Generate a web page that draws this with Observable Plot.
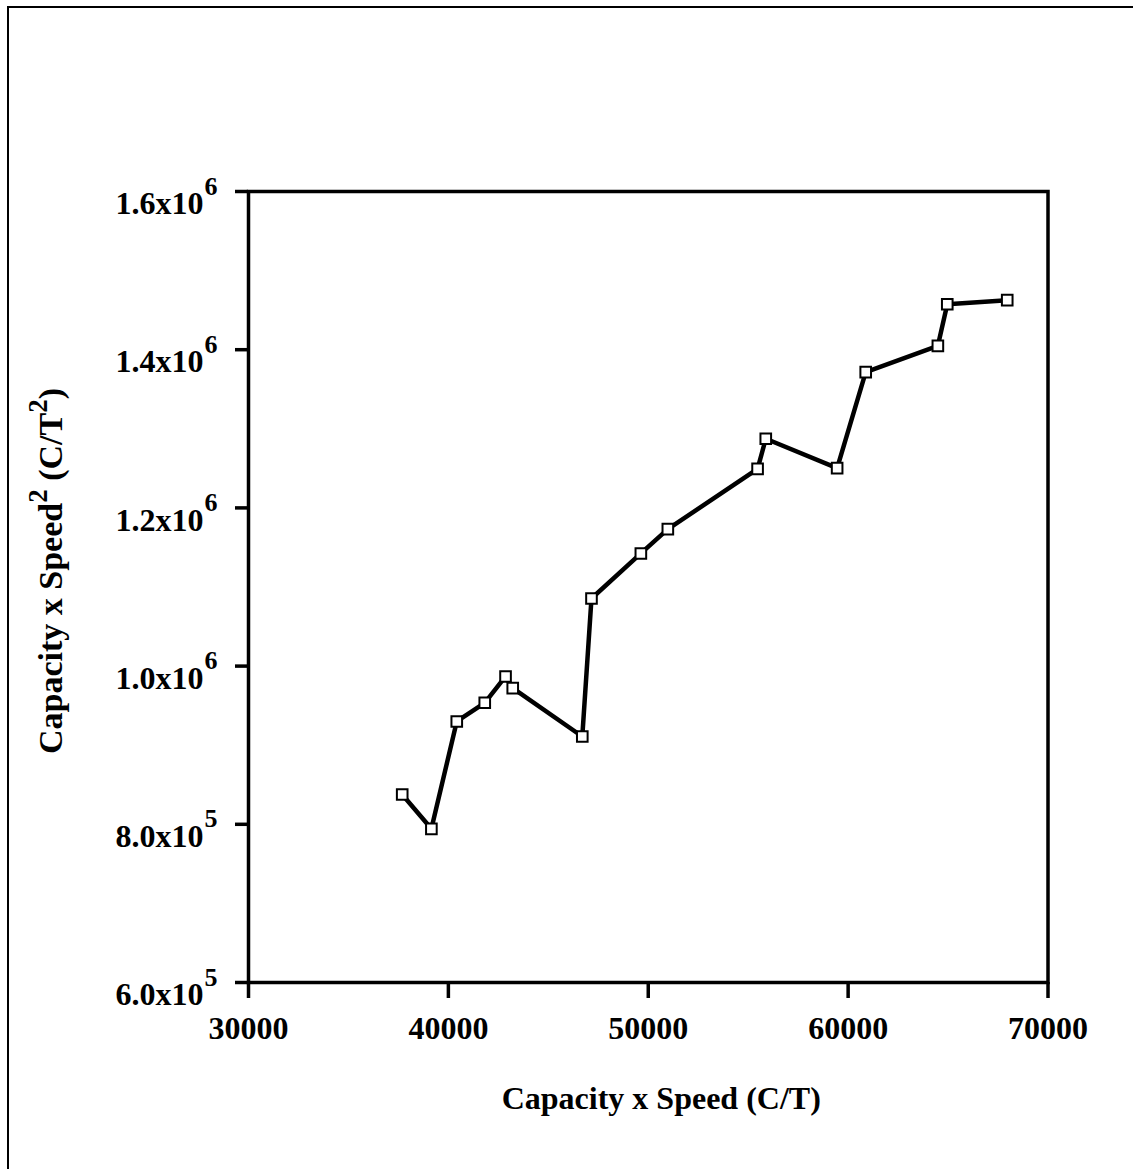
<!DOCTYPE html>
<html>
<head>
<meta charset="utf-8">
<script src="https://cdn.jsdelivr.net/npm/d3@7"></script>
<script src="https://cdn.jsdelivr.net/npm/@observablehq/plot@0.6"></script>
<style>
  html, body { margin: 0; padding: 0; background: white; }
  #wrap { position: relative; width: 1133px; height: 1169px; overflow: hidden; }
  #border { position: absolute; left: 7px; top: 6px; width: 1140px; height: 1180px;
            border-left: 2px solid black; border-top: 2px solid black; pointer-events: none; }
</style>
</head>
<body>
<div id="wrap"><div id="border"></div></div>
<script>
// Data
const capSpeed = [37690, 39150, 40420, 41820, 42860, 43220, 46700, 47160, 49630, 50980, 55470, 55880, 59450, 60880, 64490, 64960, 67960];
const capSpeed2 = [837700, 794300, 930000, 953600, 986900, 972100, 911000, 1085500, 1142400, 1173100, 1249400, 1287400, 1250200, 1371600, 1404900, 1457500, 1462600];

const xTicks = [30000, 40000, 50000, 60000, 70000];
const yTicks = [600000, 800000, 1000000, 1200000, 1400000, 1600000];
const yTickBase = ["6.0x10", "8.0x10", "1.0x10", "1.2x10", "1.4x10", "1.6x10"];
const yTickExp = ["5", "5", "6", "6", "6", "6"];

const xTitle = "Capacity x Speed (C/T)";
const yTitleParts = ["Capacity x Speed", "2", " (C/T", "2", ")"];

const data = capSpeed.map((x, i) => ({x, y: capSpeed2[i]}));

const chart = Plot.plot({
  width: 1133,
  height: 1169,
  marginLeft: 248,
  marginRight: 85.5,
  marginTop: 191,
  marginBottom: 187,
  style: {fontFamily: "'Liberation Serif', 'Times New Roman', serif", fontWeight: "bold", color: "black", background: "white"},
  x: {domain: [30000, 70000]},
  y: {domain: [600000, 1600000]},
  marks: [
    Plot.frame({stroke: "black", strokeWidth: 3.5}),
    Plot.axisX(xTicks, {tickSize: 16, tickPadding: 18, strokeWidth: 3.5, fontSize: 32, tickFormat: d3.format("d"), label: null}),
    Plot.axisY(yTicks, {tickSize: 13, strokeWidth: 3.5, fill: "none", label: null}),
    Plot.text(yTicks, {y: d => d, text: d => yTickBase[yTicks.indexOf(d)], frameAnchor: "left", textAnchor: "end", lineAnchor: "top", dx: -45, fontSize: 32, fill: "black"}),
    Plot.text(yTicks, {y: d => d, text: d => yTickExp[yTicks.indexOf(d)], frameAnchor: "left", textAnchor: "start", lineAnchor: "bottom", dx: -44, dy: 3, fontSize: 26, fill: "black"}),
    Plot.line(data, {x: "x", y: "y", stroke: "black", strokeWidth: 4.5, strokeLinejoin: "round"}),
    Plot.dot(data, {x: "x", y: "y", symbol: "square", r: 6, fill: "white", stroke: "black", strokeWidth: 2}),
    Plot.text([xTitle], {text: d => d, frameAnchor: "bottom", lineAnchor: "bottom", dx: 13, dy: 126, fontSize: 32, fill: "black"})
  ]
});

// Y-axis title with superscripts
const svg = d3.select(chart);
const yt = svg.append("text")
  .attr("transform", "translate(62,571) rotate(-90)")
  .attr("text-anchor", "middle")
  .attr("font-size", 34)
  .attr("fill", "black");
yt.append("tspan").text(yTitleParts[0]);
yt.append("tspan").attr("font-size", 27).attr("dy", -15).text(yTitleParts[1]);
yt.append("tspan").attr("dy", 15).text(yTitleParts[2]);
yt.append("tspan").attr("font-size", 27).attr("dy", -15).text(yTitleParts[3]);
yt.append("tspan").attr("dy", 15).text(yTitleParts[4]);

document.getElementById("wrap").prepend(chart);
</script>
</body>
</html>
